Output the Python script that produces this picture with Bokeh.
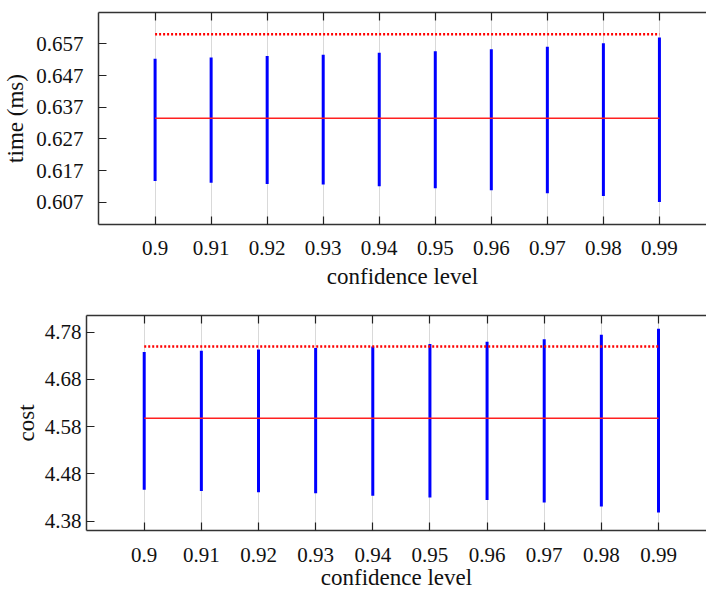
from bokeh.plotting import figure
from bokeh.models import FixedTicker, LinearAxis, Range1d
from bokeh.embed import file_html
from bokeh.resources import INLINE

levels = [0.90, 0.91, 0.92, 0.93, 0.94, 0.95, 0.96, 0.97, 0.98, 0.99]
level_labels = ["0.9", "0.91", "0.92", "0.93", "0.94", "0.95", "0.96", "0.97", "0.98", "0.99"]

time_low = [0.6137, 0.6132, 0.6128, 0.6126, 0.6121, 0.6114, 0.6108, 0.6099, 0.6090, 0.6071]
time_high = [0.6523, 0.6527, 0.6532, 0.6536, 0.6542, 0.6547, 0.6553, 0.6561, 0.6572, 0.6590]
time_mean = 0.6335
time_limit = 0.6600
time_ticks = [0.607, 0.617, 0.627, 0.637, 0.647, 0.657]
time_tick_labels = ["0.607", "0.617", "0.627", "0.637", "0.647", "0.657"]

cost_low = [4.4467, 4.4439, 4.4411, 4.4390, 4.4340, 4.4298, 4.4249, 4.4193, 4.4108, 4.3981]
cost_high = [4.7378, 4.7407, 4.7435, 4.7462, 4.7498, 4.7547, 4.7597, 4.7652, 4.7745, 4.7872]
cost_mean = 4.598
cost_limit = 4.7498
cost_ticks = [4.38, 4.48, 4.58, 4.68, 4.78]
cost_tick_labels = ["4.38", "4.48", "4.58", "4.68", "4.78"]

FONT = "Liberation Serif"


def make_panel(low, high, mean, limit, yticks, ylabels, yrange, ylab, height,
               bl, bt, bb, x_std, xlab_std, y_std, ylab_std):
    p = figure(width=706, height=height, output_backend="svg", toolbar_location=None,
               x_range=Range1d(0.8899, 0.9984), y_range=Range1d(*yrange),
               min_border_left=bl, min_border_top=bt, min_border_bottom=bb,
               min_border_right=0, x_axis_location=None, y_axis_location=None)
    p.background_fill_color = "white"
    p.border_fill_color = "white"
    p.outline_line_color = None

    xb = LinearAxis(ticker=FixedTicker(ticks=levels),
                    major_label_overrides=dict(zip(levels, level_labels)),
                    axis_label="confidence level")
    yl = LinearAxis(ticker=FixedTicker(ticks=yticks),
                    major_label_overrides=dict(zip(yticks, ylabels)),
                    axis_label=ylab)
    for ax in (xb, yl):
        ax.major_tick_in = 8
        ax.major_tick_out = 0
        ax.minor_tick_line_color = None
        ax.axis_line_color = "#333333"
        ax.axis_line_width = 1.5
        ax.major_tick_line_color = "#222222"
        ax.major_tick_line_width = 1.2
        ax.major_label_text_font = FONT
        ax.major_label_text_font_size = "21px"
        ax.major_label_text_color = "#111111"
        ax.major_label_text_line_height = 0.8
        ax.axis_label_text_font = FONT
        ax.axis_label_text_font_size = "23px"
        ax.axis_label_text_font_style = "normal"
        ax.axis_label_text_color = "#111111"
        ax.axis_label_text_line_height = 0.8
    xb.major_label_standoff = x_std
    xb.axis_label_standoff = xlab_std
    yl.major_label_standoff = y_std
    yl.axis_label_standoff = ylab_std
    p.add_layout(xb, "below")
    p.add_layout(yl, "left")

    # top border with inward tick marks (minor ticks carry no labels)
    xt = LinearAxis(ticker=FixedTicker(ticks=[], minor_ticks=levels))
    xt.axis_line_color = "#333333"
    xt.axis_line_width = 1.5
    xt.major_tick_line_color = None
    xt.minor_tick_in = 8
    xt.minor_tick_out = 0
    xt.minor_tick_line_color = "#222222"
    xt.minor_tick_line_width = 1.2
    xt.major_label_standoff = 0
    p.add_layout(xt, "above")

    p.xgrid.ticker = FixedTicker(ticks=levels)
    p.xgrid.grid_line_color = "#d9d9d9"
    p.xgrid.grid_line_width = 1
    p.ygrid.grid_line_color = None

    p.segment(x0=levels, y0=low, x1=levels, y1=high, line_color="#0000ff", line_width=3)
    p.line(x=[levels[0], levels[-1]], y=[mean, mean], line_color="#ff2020", line_width=1.5)
    p.line(x=[levels[0], levels[-1]], y=[limit, limit], line_color="#ff0000",
           line_width=2.5, line_dash="2 2")
    return p


p1 = make_panel(time_low, time_high, time_mean, time_limit, time_ticks, time_tick_labels,
                (0.6000, 0.6669), "time (ms)", 296, 97, 12, 72, 16, 6, 15, 5)
p2 = make_panel(cost_low, cost_high, cost_mean, cost_limit, cost_ticks, cost_tick_labels,
                (4.3602, 4.8152), "cost", 296, 86, 19, 61, 17, 0, 5, 3)

html = file_html([p1, p2], INLINE)
html = html.replace("<head>", "<head><style>html,body{margin:0;padding:0;overflow:hidden;}</style>", 1)
open("out.html", "w").write(html)
